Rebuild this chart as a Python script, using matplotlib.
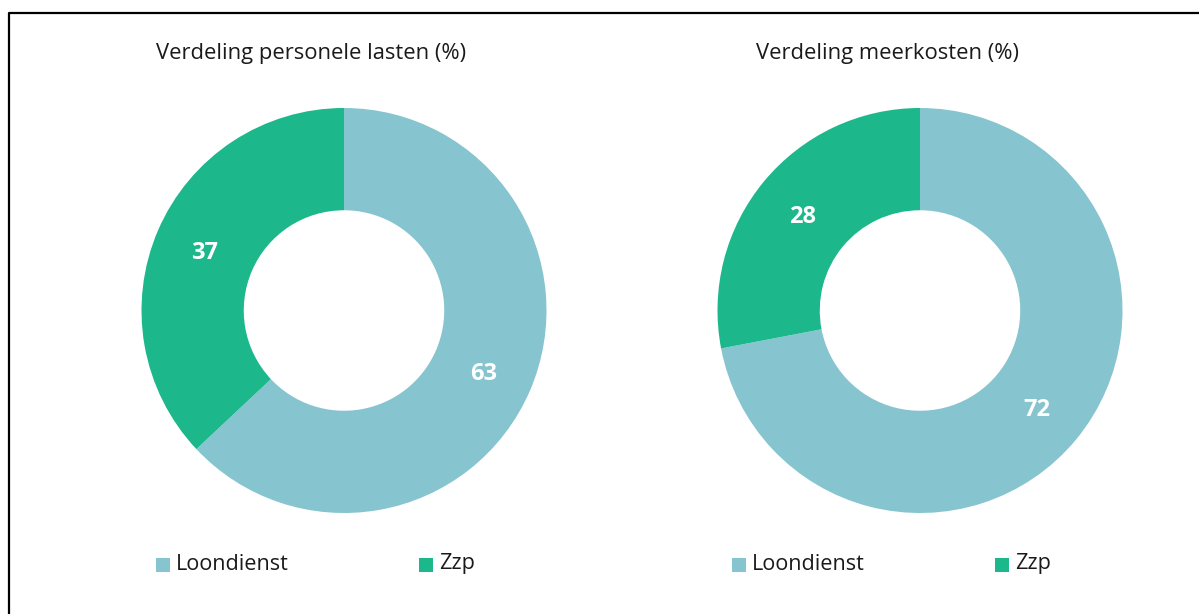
import matplotlib.pyplot as plt
from matplotlib.patches import Rectangle
from matplotlib.lines import Line2D

# ---- data ----
categories = ['Loondienst', 'Zzp']
personele_lasten = [63, 37]
meerkosten = [72, 28]
titles = ['Verdeling personele lasten (%)', 'Verdeling meerkosten (%)']

colors = ['#86C5CF', '#1CB78A']

plt.rcParams['font.family'] = ['Open Sans', 'DejaVu Sans']

W, H = 1199, 614
fig = plt.figure(figsize=(W / 100, H / 100), dpi=100)


def px_axes(cx, cy, r):
    # axes from pixel centre / radius (y measured from top)
    return fig.add_axes([(cx - r) / W, (H - cy - r) / H, 2 * r / W, 2 * r / H])


def draw_donut(ax, values):
    wedges, texts, autotexts = ax.pie(values, colors=colors, startangle=90, counterclock=False,
                                      radius=1, wedgeprops=dict(width=0.505, linewidth=0),
                                      autopct=lambda p: f'{p:.0f}', pctdistance=0.75)
    for t in autotexts:
        t.set_color('white')
        t.set_fontsize(17)
        t.set_fontweight('bold')
        x, y = t.get_position()
        t.set_position((x, y - 0.015))  # small nudge down, va=center sits a bit high
    ax.set_xlim(-1, 1)
    ax.set_ylim(-1, 1)
    ax.set_aspect('equal')
    ax.axis('off')


centres = [344, 920]
for cx, vals, title in zip(centres, [personele_lasten, meerkosten], titles):
    ax = px_axes(cx, 310.5, 202.5)
    draw_donut(ax, vals)
    fig.text((cx - 33) / W, 1 - 53 / H, title, ha='center', va='center', fontsize=15.8, color='#1a1a1a')
    # legend: little squares + labels
    for i, (lab, col) in enumerate(zip(categories, colors)):
        x0 = cx - 188 + i * 263
        fig.patches.append(Rectangle((x0 / W, 1 - 572 / H), 14 / W, 14 / H, transform=fig.transFigure,
                                     facecolor=col, edgecolor='none'))
        fig.text((x0 + 20) / W, 1 - 564 / H, lab, ha='left', va='center', fontsize=15.6, color='#1a1a1a')

# frame (only top and left edge visible)
fig.add_artist(Line2D([8.5 / W, 8.5 / W, 1], [0, 1 - 12.5 / H, 1 - 12.5 / H],
                      transform=fig.transFigure, color='black', linewidth=1.6))

fig.savefig('out.png', dpi=100)
